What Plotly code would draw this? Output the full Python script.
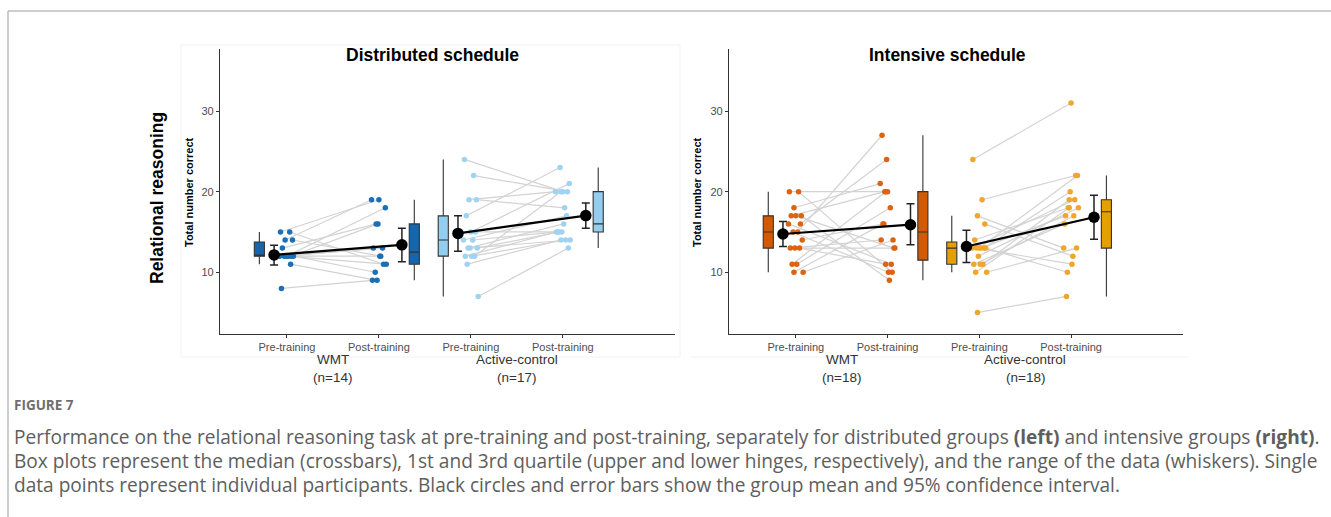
import numpy as np
import plotly.graph_objects as go

# ---------------- data ----------------
conditions = ["Pre-training", "Post-training", "Pre-training", "Post-training"]
groups_dist = ["WMT", "Active-control"]
n_dist = ["(n=14)", "(n=17)"]
n_int = ["(n=18)", "(n=18)"]

# Distributed schedule, paired participants (pre, post)
dist_wmt_pre = [15, 15, 14, 14, 13, 12, 12, 12, 12, 12, 12, 12, 11, 8]
dist_wmt_post = [19, 11, 19, 12, 16, 18, 16, 13, 13, 12, 10, 11, 9, 9]
dist_ac_pre = [24, 22, 19, 19, 17, 15, 15, 14, 14, 13, 13, 13, 12, 12, 12, 11, 7]
dist_ac_post = [20, 20, 20, 18, 23, 21, 15, 17, 15, 16, 15, 14, 20, 15, 14, 14, 13]

# Intensive schedule
int_wmt_pre = [20, 20, 18, 17, 17, 17, 16, 16, 15, 15, 14, 13, 13, 13, 11, 11, 10, 10]
int_wmt_post = [20, 10, 21, 9, 20, 13, 24, 11, 27, 10, 16, 13, 11, 14, 18, 20, 14, 16]
int_ac_pre = [24, 19, 17, 16, 14, 13, 13, 13, 13, 13, 13, 12, 11, 11, 11, 10, 10, 5]
int_ac_post = [31, 22, 13, 12, 18, 22, 20, 19, 17, 11, 10, 18, 19, 16, 17, 18, 13, 7]

# group means and 95% CI (pre, post)
dist_wmt_mean = [12.15, 13.4]
dist_wmt_ci_lo = [10.9, 11.3]
dist_wmt_ci_hi = [13.35, 15.45]
dist_ac_mean = [14.82, 17.03]
dist_ac_ci_lo = [12.6, 15.45]
dist_ac_ci_hi = [17.0, 18.6]
int_wmt_mean = [14.75, 15.9]
int_wmt_ci_lo = [13.2, 13.4]
int_wmt_ci_hi = [16.3, 18.5]
int_ac_mean = [13.2, 16.83]
int_ac_ci_lo = [11.2, 14.1]
int_ac_ci_hi = [15.2, 19.55]

ytick_vals = [10, 20, 30]

# ---------------- styling ----------------
W, H = 1331, 517
FONT = "Liberation Sans, Arial, sans-serif"
JIT = [-0.07, 0.03, -0.02, 0.06, -0.05, 0.0, 0.05, -0.08, 0.02,
       -0.03, 0.07, -0.01, 0.04, -0.06, 0.01, -0.04, 0.08, -0.02]

def px(x):
    return x / W

def py(y):
    return 1 - y / H

fig = go.Figure()


def box_stats(v):
    v = np.sort(np.asarray(v, float))
    q1, med, q3 = np.percentile(v, [25, 50, 75])
    iqr = q3 - q1
    lo = v[v >= q1 - 1.5 * iqr].min()
    hi = v[v <= q3 + 1.5 * iqr].max()
    return q1, med, q3, lo, hi


def add_group(xa, ya, pre, post, base, dot_col, box_col, mean, lo, hi):
    # paired lines
    for i, (a, b) in enumerate(zip(pre, post)):
        fig.add_trace(go.Scatter(
            x=[base + JIT[i % len(JIT)], base + 1 + JIT[(i + 5) % len(JIT)]],
            y=[a, b], mode="lines", line=dict(color="#d3d3d3", width=1.2),
            xaxis=xa, yaxis=ya, showlegend=False, hoverinfo="skip"))
    # points
    xs_pre = [base + JIT[i % len(JIT)] for i in range(len(pre))]
    xs_post = [base + 1 + JIT[(i + 5) % len(JIT)] for i in range(len(post))]
    fig.add_trace(go.Scatter(x=xs_pre + xs_post, y=list(pre) + list(post),
                             mode="markers",
                             marker=dict(color=dot_col, size=5.5, line=dict(width=0)),
                             xaxis=xa, yaxis=ya, showlegend=False))
    # boxes
    for pos, vals in [(base - 0.30, pre), (base + 1 + 0.385, post)]:
        q1, med, q3, wl, wh = box_stats(vals)
        fig.add_trace(go.Box(
            x=[pos], q1=[q1], median=[med], q3=[q3], lowerfence=[wl], upperfence=[wh],
            width=0.11, whiskerwidth=0, fillcolor=box_col,
            line=dict(color="#333333", width=1.1),
            xaxis=xa, yaxis=ya, showlegend=False, boxpoints=False))
    # means + CI
    mx = [base - 0.14, base + 1 + 0.25]
    fig.add_trace(go.Scatter(
        x=mx, y=mean, mode="lines+markers",
        line=dict(color="black", width=2.2),
        marker=dict(color="black", size=11.5),
        error_y=dict(type="data", symmetric=False,
                     array=[h - m for h, m in zip(hi, mean)],
                     arrayminus=[m - l for l, m in zip(lo, mean)],
                     color="#222222", thickness=1.5, width=4),
        xaxis=xa, yaxis=ya, showlegend=False))


add_group("x", "y", dist_wmt_pre, dist_wmt_post, 1, "#1a6fb6", "#1766ad",
          dist_wmt_mean, dist_wmt_ci_lo, dist_wmt_ci_hi)
add_group("x", "y", dist_ac_pre, dist_ac_post, 3, "#9fd3f1", "#93cdef",
          dist_ac_mean, dist_ac_ci_lo, dist_ac_ci_hi)
add_group("x2", "y2", int_wmt_pre, int_wmt_post, 1, "#dc6314", "#d35a03",
          int_wmt_mean, int_wmt_ci_lo, int_wmt_ci_hi)
add_group("x2", "y2", int_ac_pre, int_ac_post, 3, "#f0a62a", "#e69f00",
          int_ac_mean, int_ac_ci_lo, int_ac_ci_hi)

xaxis_common = dict(range=[0.272, 5.22], tickvals=[1, 2, 3, 4], ticktext=conditions,
                    showline=True, linecolor="#333333", linewidth=1.2,
                    ticks="outside", ticklen=3, tickcolor="#333333",
                    tickfont=dict(family=FONT, size=11, color="#4d4d4d"),
                    showgrid=False, zeroline=False, fixedrange=True)
yaxis_common = dict(range=[2.34, 37.7], tickvals=ytick_vals,
                    showline=True, linecolor="#333333", linewidth=1.2,
                    ticks="outside", ticklen=3, tickcolor="#333333",
                    tickfont=dict(family=FONT, size=11, color="#4d4d4d"),
                    showgrid=False, zeroline=False, fixedrange=True)

fig.update_layout(
    width=W, height=H, margin=dict(l=0, r=0, t=0, b=0), autosize=False,
    paper_bgcolor="white", plot_bgcolor="white",
    xaxis=dict(domain=[px(220), px(675)], anchor="y", **xaxis_common),
    yaxis=dict(domain=[py(334), py(49)], anchor="x", **yaxis_common),
    xaxis2=dict(domain=[px(729), px(1183)], anchor="y2", **xaxis_common),
    yaxis2=dict(domain=[py(334), py(49)], anchor="x2", **yaxis_common),
    showlegend=False,
)


def A(text, x, y, xref="paper", size=11, color="black", family=FONT, xanchor="center", angle=0):
    return dict(text=text, x=x, y=y, xref=xref, yref="paper", showarrow=False,
                xanchor=xanchor, yanchor="middle", textangle=angle,
                font=dict(family=family, size=size, color=color))


ann = []
ann.append(A("<b>Distributed schedule</b>", px(432), py(55), size=17.5))
ann.append(A("<b>Intensive schedule</b>", px(948), py(55), size=17.5))
ann.append(A("<b>Relational reasoning</b>", px(157), py(198), size=17.5, angle=-90))
for xp in (189, 697):
    ann.append(A("<b>Total number correct</b>", px(xp), py(192), size=11, angle=-90))
for xa, ns in (("x", n_dist), ("x2", n_int)):
    for k, g in enumerate(groups_dist):
        ann.append(A(g, 1.5 + 2 * k, py(359), xref=xa, size=13.5, color="#333333"))
        ann.append(A(ns[k], 1.5 + 2 * k, py(377), xref=xa, size=13.5, color="#333333"))

CAP = "Open Sans, Noto Sans, sans-serif"
ann.append(A("<b>FIGURE 7</b>", px(12), py(405), size=13.5, color="#6e6e6e", family=CAP, xanchor="left"))
cap_lines = [
    "Performance on the relational reasoning task at pre-training and post-training, separately for distributed groups <b>(left)</b> and intensive groups <b>(right)</b>.",
    "Box plots represent the median (crossbars), 1st and 3rd quartile (upper and lower hinges, respectively), and the range of the data (whiskers). Single",
    "data points represent individual participants. Black circles and error bars show the group mean and 95% confidence interval.",
]
for i, t in enumerate(cap_lines):
    ann.append(A(t, px(12), py(437 + 24 * i), size=19.1, color="#5e5e5e", family=CAP, xanchor="left"))
fig.update_layout(annotations=ann)

shapes = [
    dict(type="line", xref="paper", yref="paper", x0=px(8), x1=1, y0=py(11), y1=py(11),
         line=dict(color="#bdbdbd", width=1.5)),
    dict(type="line", xref="paper", yref="paper", x0=px(8), x1=px(8), y0=py(11), y1=0,
         line=dict(color="#bdbdbd", width=1.5)),
    dict(type="rect", xref="paper", yref="paper", x0=px(181), x1=px(680), y0=py(357), y1=py(45),
         line=dict(color="#f2f2f2", width=1)),
    dict(type="line", xref="paper", yref="paper", x0=px(690), x1=px(1188), y0=py(357), y1=py(357),
         line=dict(color="#f2f2f2", width=1)),
]
fig.update_layout(shapes=shapes)

fig.write_html("out.html")
